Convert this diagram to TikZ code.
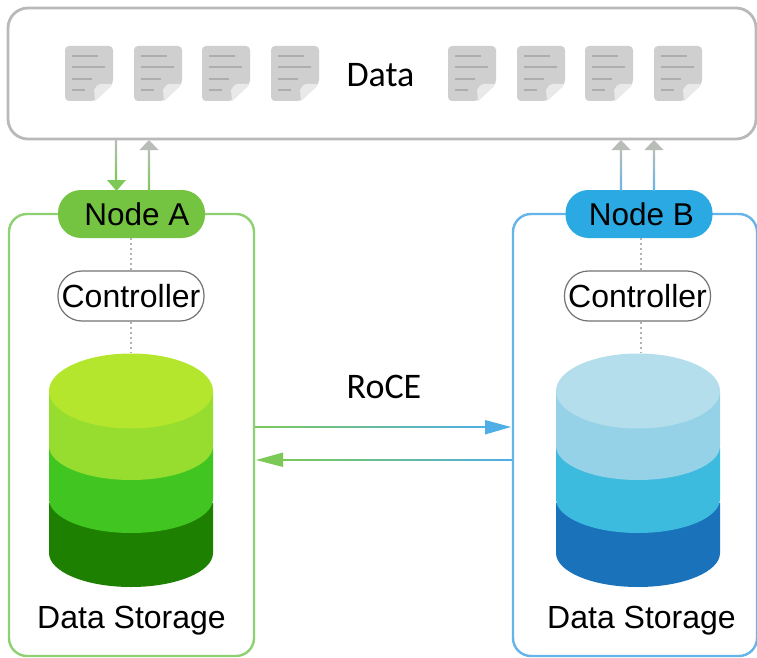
\documentclass[tikz,border=0pt]{standalone}
\usepackage{fontspec}
\setmainfont{Liberation Sans}
\newfontfamily\calfont{Carlito}
\usetikzlibrary{calc}
\definecolor{grnline}{HTML}{8FD072}
\definecolor{bluline}{HTML}{66B5EA}
\definecolor{graybox}{HTML}{B9B9B9}
\definecolor{arrgray}{HTML}{B8BDB8}
\definecolor{grnpill}{HTML}{74C442}
\definecolor{blupill}{HTML}{2AA9E2}
\definecolor{docgray}{HTML}{CFCFCF}
\definecolor{docline}{HTML}{ADADAD}
\definecolor{docfold}{HTML}{E9E9E9}
\definecolor{arrgrn}{HTML}{7CC957}
\definecolor{arrblu}{HTML}{4FAEE6}
\definecolor{ga}{HTML}{B3E62C}
\definecolor{gb}{HTML}{97DD2F}
\definecolor{gc}{HTML}{41C521}
\definecolor{gd}{HTML}{1E8000}
\definecolor{ba}{HTML}{B5DEEC}
\definecolor{bb}{HTML}{95D1E7}
\definecolor{bc}{HTML}{3DBBDE}
\definecolor{bd}{HTML}{1A72BA}
\tikzset{
  x=1pt,y=-1pt,
  txt/.style={font=\fontsize{32}{34}\selectfont,inner sep=0pt,text=black},
  caltxt/.style={font=\calfont\fontsize{36}{38}\selectfont,inner sep=0pt,text=black},
  pill/.style={minimum width=147pt,minimum height=48pt,rounded corners=23pt,inner sep=0pt,
    font=\fontsize{31.5}{34}\selectfont,text=black},
  ctrl/.style={draw=black!55,line width=1.2pt,fill=white,minimum width=146pt,minimum height=50pt,
    rounded corners=24pt,inner sep=0pt,font=\fontsize{32}{34}\selectfont,text=black},
  sidebox/.style={draw,line width=2.4pt,rounded corners=18pt,minimum width=245pt,minimum height=442pt,inner sep=0pt},
  databox/.style={draw=graybox,line width=2.8pt,rounded corners=20pt,fill=white,minimum width=748pt,minimum height=131pt,inner sep=0pt},
  dots/.style={draw=black!30,line width=1.2pt,dash pattern=on 2pt off 3pt},
}
% document icon: top-left corner at #1,#2
\newcommand{\docicon}[2]{%
  \begin{scope}[shift={(#1,#2)}]
    \fill[docgray,rounded corners=4pt] (0,0) -- (48,0) -- (48,38) -- (30,55) -- (0,55) -- cycle;
    \fill[docfold] (48,38) -- (30,55) -- (29,44) [rounded corners=2pt] -- (33,38) -- cycle;
    \draw[docline,line width=1.1pt] (7,10) -- (33,10) (7,21) -- (40,21) (7,33) -- (27,33) (7,44) -- (20,44);
  \end{scope}}
% stacked cylinder: centre x #1, colours top to bottom #2..#5
\newcommand{\stackcyl}[5]{%
  \begin{scope}[shift={(#1,0)}]
    \fill[#5] (-82,503) -- (-82,553) arc[start angle=180,end angle=0,x radius=82,y radius=34] -- (82,503) -- cycle;
    \fill[#4] (-82,448) -- (-82,499) arc[start angle=180,end angle=0,x radius=82,y radius=34] -- (82,448) -- cycle;
    \fill[#3] (-82,391) -- (-82,446) arc[start angle=180,end angle=0,x radius=82,y radius=34] -- (82,391) -- cycle;
    \fill[#2] (0,391) ellipse[x radius=82,y radius=37.5];
  \end{scope}}
\newcommand{\hshaft}[4]{\shade[left color=#3,right color=#4] ($(#1)+(0,-0.9)$) rectangle ($(#2)+(0,0.9)$);}
\begin{document}
\begin{tikzpicture}
\useasboundingbox (0,0) rectangle (757,658);
\fill[white] (0,0) rectangle (757,658);

% data box
\node[databox] (data) at (382,73.5) {};
\docicon{65}{46}\docicon{134}{46}\docicon{202}{46}\docicon{271}{46}
\docicon{448}{46}\docicon{517}{46}\docicon{585}{46}\docicon{654}{46}
\node[caltxt] (datatext) at (380.5,75) {Data};

% side boxes
\node[sidebox,draw=grnline] (boxA) at (131.5,435) {};
\node[sidebox,draw=bluline,minimum width=244pt] (boxB) at (635,435) {};

% pills
\node[pill,fill=grnpill] (nodeA) at (131.5,214) {\hspace*{11pt}Node A};
\node[pill,fill=blupill] (nodeB) at (639,214) {\hspace*{5pt}Node B};

% controllers
\node[ctrl] (ctrlA) at (131,296) {Controller};
\node[ctrl] (ctrlB) at (637.5,296) {Controller};

% cylinders
\stackcyl{131}{ga}{gb}{gc}{gd}
\stackcyl{638}{ba}{bb}{bc}{bd}
\coordinate (cylAtop) at (131,353);
\coordinate (cylBtop) at (641,353);

% dotted links
\draw[dots] (nodeA.south -| ctrlA) -- (ctrlA.north);
\draw[dots] (ctrlA.south) -- (cylAtop);
\draw[dots] (nodeB.south -| cylBtop) -- (ctrlB.north -| cylBtop);
\draw[dots] (ctrlB.south -| cylBtop) -- (cylBtop);

\node[txt] (storeA) at (131.5,621) {Data Storage};
\node[txt] (storeB) at (641.5,621) {Data Storage};
\node[caltxt] (roce) at (384,387) {RoCE};

% vertical connectors
\coordinate (a1t) at (116,140); \coordinate (a1b) at (116,180);
\shade[top color=arrgray,bottom color=arrgrn] ($(a1t)+(-1.1,0)$) rectangle ($(a1b)+(1.1,0)$);
\fill[arrgrn] (107,180) -- (126,180) -- (116.5,191) -- cycle;
\coordinate (a2t) at (149,150); \coordinate (a2b) at (149,190);
\shade[top color=arrgray,bottom color=arrgrn] ($(a2t)+(-1.1,0)$) rectangle ($(a2b)+(1.1,0)$);
\fill[arrgray] (139.5,150) -- (158.5,150) -- (149,140) -- cycle;
\coordinate (b1t) at (621,150); \coordinate (b1b) at (621,190);
\shade[top color=arrgray,bottom color=bluline] ($(b1t)+(-1.1,0)$) rectangle ($(b1b)+(1.1,0)$);
\fill[arrgray] (611.5,150) -- (630.5,150) -- (621,140) -- cycle;
\coordinate (b2t) at (654,150); \coordinate (b2b) at (654,190);
\shade[top color=arrgray,bottom color=bluline] ($(b2t)+(-1.1,0)$) rectangle ($(b2b)+(1.1,0)$);
\fill[arrgray] (644.5,150) -- (663.5,150) -- (654,140) -- cycle;

% RoCE connectors
\coordinate (r1a) at (boxA.east |- 0,427); \coordinate (r1b) at (486,427);
\hshaft{r1a}{r1b}{arrgrn}{arrblu}
\fill[arrblu] (485,420) -- (511,427) -- (485,434.5) -- cycle;
\coordinate (r2a) at (282,460); \coordinate (r2b) at (boxB.west |- 0,460);
\hshaft{r2a}{r2b}{arrgrn}{arrblu}
\fill[arrgrn] (283,452.5) -- (256,460) -- (283,467) -- cycle;
\end{tikzpicture}
\end{document}
